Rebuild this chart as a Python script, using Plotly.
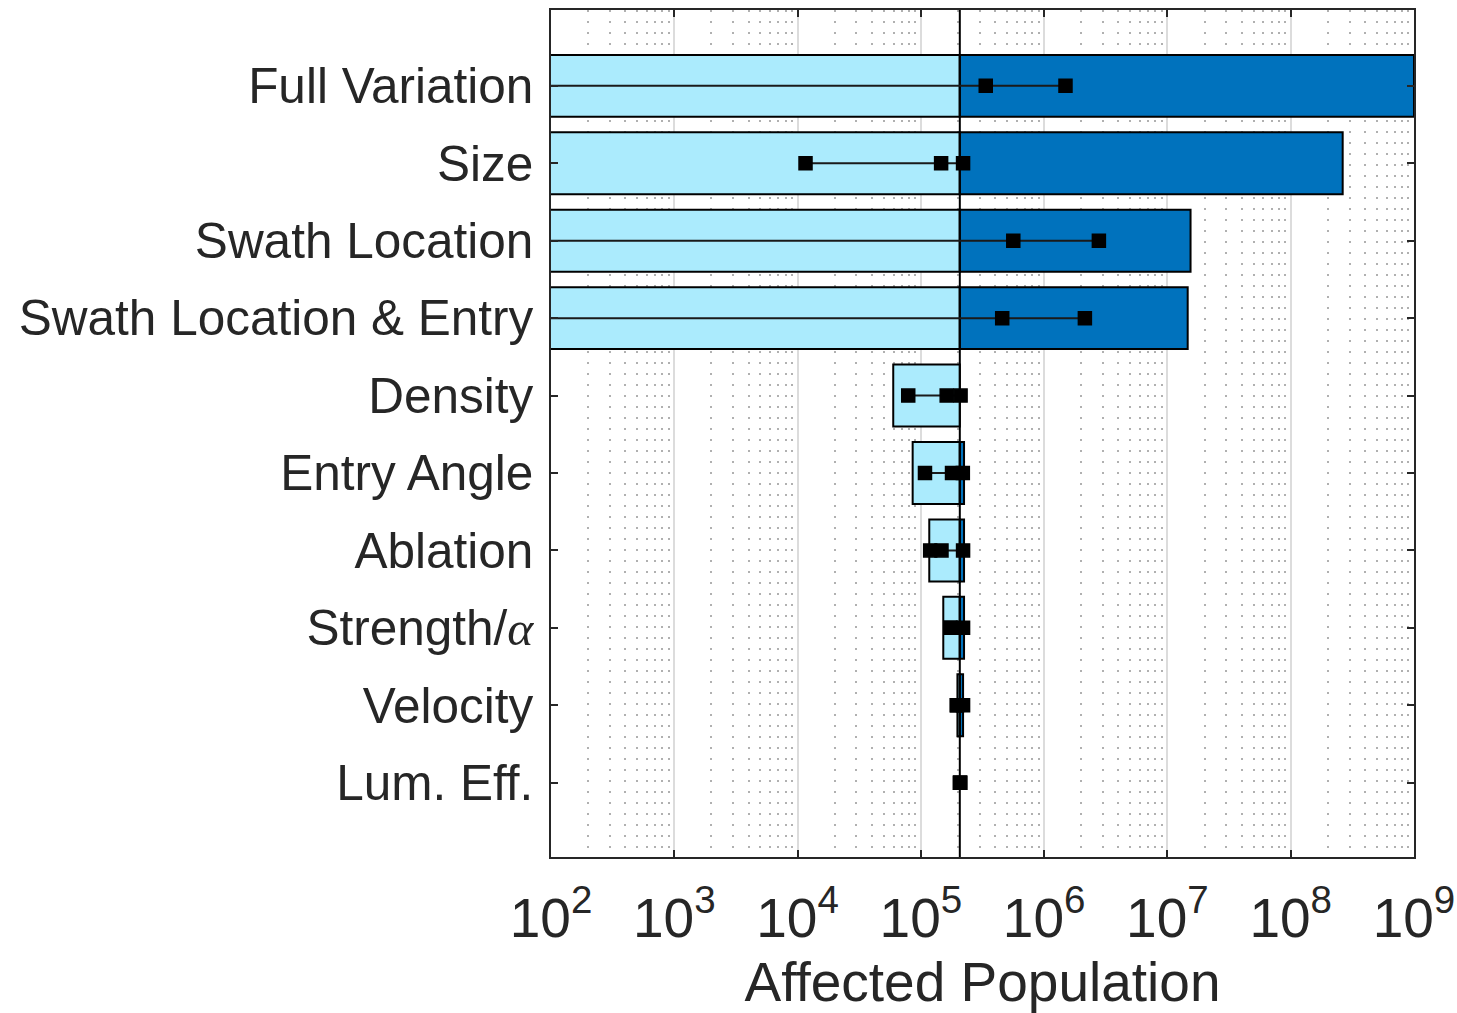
import plotly.graph_objects as go

# Sensitivity of affected population to each uncertain parameter
categories = ["Full Variation", "Size", "Swath Location", "Swath Location & Entry",
              "Density", "Entry Angle", "Ablation",
              "Strength/<span style=\"font-family:'Liberation Serif';font-style:italic\">α</span>",
              "Velocity", "Lum. Eff."]

baseline = 2.07e5

# Lower and upper extent of each bar (affected population)
bar_low = [10, 10, 10, 10, 5.97e4, 8.58e4, 1.17e5, 1.52e5, 1.98e5, 2.07e5]
bar_high = [1e9, 2.64e8, 1.54e7, 1.46e7, 2.07e5, 2.24e5, 2.24e5, 2.24e5, 2.2e5, 2.07e5]

# Sample points plotted on each bar
pt_a = [30, 1.16e4, 30, 30, 7.9e4, 1.08e5, 1.19e5, 1.74e5, 1.96e5, 2.08e5]
pt_b = [3.36e5, 1.46e5, 5.62e5, 4.57e5, 1.62e5, 1.79e5, 1.47e5, 1.74e5, 1.96e5, 2.08e5]
pt_c = [1.49e6, 2.2e5, 2.78e6, 2.14e6, 2.1e5, 2.19e5, 2.2e5, 2.2e5, 2.2e5, 2.08e5]

TEXT = "#262626"
LIGHT = "#ABEBFD"
DARK = "#0072BD"
idx = list(range(len(categories)))

low_len = [baseline - v if baseline - v > 0 else None for v in bar_low]
high_len = [v - baseline if v - baseline > 0 else None for v in bar_high]

fig = go.Figure()
fig.add_trace(go.Bar(
    y=idx, x=low_len, base=bar_low, orientation="h", width=0.8,
    marker=dict(color=LIGHT, line=dict(color="black", width=2)),
    hoverinfo="skip", showlegend=False))
fig.add_trace(go.Bar(
    y=idx, x=high_len, base=[baseline] * len(idx), orientation="h", width=0.8,
    marker=dict(color=DARK, line=dict(color="black", width=2)),
    hoverinfo="skip", showlegend=False))

# Baseline through all bars
fig.add_trace(go.Scatter(
    x=[baseline, baseline], y=[-2, 11], mode="lines",
    line=dict(color="black", width=2), hoverinfo="skip", showlegend=False))

# Connected sample points
xs, ys = [], []
for i in idx:
    xs += [pt_a[i], pt_b[i], pt_c[i], None]
    ys += [i, i, i, None]
fig.add_trace(go.Scatter(
    x=xs, y=ys, mode="lines+markers",
    line=dict(color="#1a1a1a", width=2),
    marker=dict(symbol="square", size=13, color="black", line=dict(color="black", width=1.5)),
    hoverinfo="skip", showlegend=False))

fig.update_layout(
    width=1457, height=1013,
    margin=dict(l=551, r=43, t=10, b=156),
    paper_bgcolor="white", plot_bgcolor="white",
    font=dict(family="Liberation Sans, Arial, sans-serif", color=TEXT, size=49),
    barmode="overlay",
    xaxis=dict(
        type="log", range=[1.9999, 9.0001], dtick=1, exponentformat="power",
        automargin=False,
        showgrid=True, gridcolor="#DCDCDC", gridwidth=1.5,
        minor=dict(dtick="D1", showgrid=True, gridcolor="#B0B0B0",
                   griddash="1.5px,9.5px", gridwidth=1.5, ticks=""),
        ticks="inside", ticklen=7, tickwidth=1.5, tickcolor=TEXT,
        showline=True, linecolor=TEXT, linewidth=1.5, mirror="ticks",
        zeroline=False, tickfont=dict(size=44, color=TEXT),
        ticklabelstandoff=14,
        title=dict(text="Affected Population", font=dict(size=55, color=TEXT), standoff=23),
    ),
    yaxis=dict(
        range=[9.96, -0.98], tickmode="array", tickvals=idx, ticktext=categories,
        automargin=False,
        ticks="inside", ticklen=7, tickwidth=1.5, tickcolor=TEXT,
        showline=True, linecolor=TEXT, linewidth=1.5, mirror="ticks",
        showgrid=False, zeroline=False, tickfont=dict(size=49.5, color=TEXT),
        ticklabelstandoff=6,
    ),
)

fig.write_html("out.html")
